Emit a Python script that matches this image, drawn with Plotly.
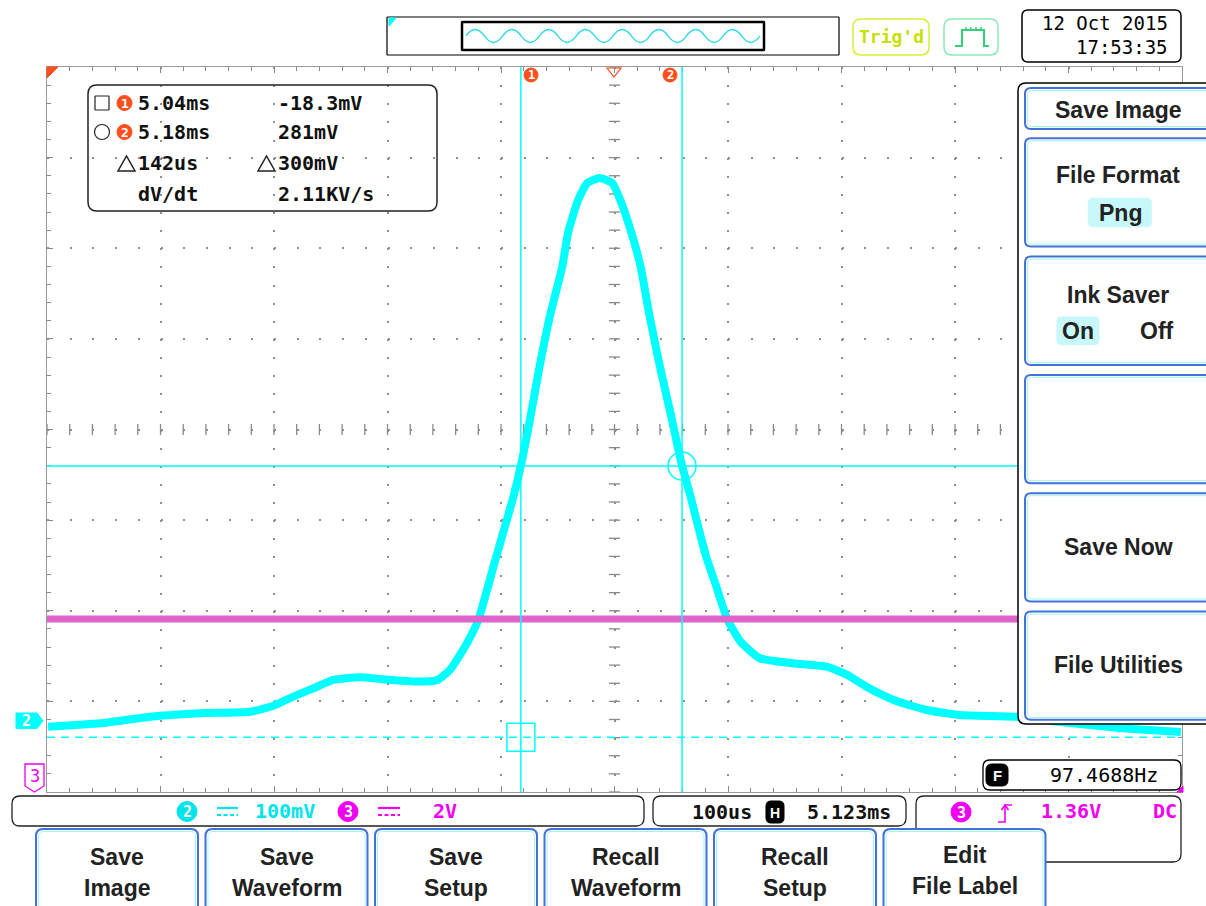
import numpy as np
import plotly.graph_objects as go

# ---------------- data ----------------
ch2_time_ms = [4.624, 4.670, 4.714, 4.758, 4.802, 4.822, 4.840, 4.861, 4.875, 4.899,
               4.919, 4.949, 4.967, 4.978, 4.993, 5.003, 5.018,
               5.034, 5.041, 5.049, 5.057, 5.066, 5.077, 5.082, 5.091, 5.099, 5.110,
               5.121, 5.128, 5.138, 5.146, 5.154, 5.163, 5.173, 5.182, 5.190,
               5.204, 5.212, 5.222, 5.234, 5.251, 5.280, 5.310, 5.328, 5.345, 5.369,
               5.398, 5.427, 5.477, 5.516, 5.568, 5.622]
ch2_mv = [-6.5, -2.8, 4.5, 8.3, 10.0, 16.3, 26.6, 37.6, 45.0, 48.0,
          45.8, 43.2, 45.0, 56.1, 85.5, 111.3, 177.5,
          247.4, 284.2, 335.7, 390.9, 446.1, 501.2, 538.1, 574.9, 593.3, 598.8,
          593.3, 574.9, 538.1, 501.2, 446.1, 390.9, 335.7, 284.2, 247.4,
          180.0, 151.0, 113.1, 87.3, 69.0, 63.5, 59.7, 50.6, 37.6, 23.0,
          11.9, 6.4, 4.5, -1.3, -7.9, -12.4]
ch3_time_ms = [4.623, 5.623]
ch3_volts = [5.0, 5.0]

cursor_time_ms = [5.0405, 5.1825]
cursor_mv = [-18.3, 281.0]

h_center_ms = 5.123      # horizontal position
time_per_div_ms = 0.1    # 100 us/div
ch2_mv_per_div = 100
ch2_top_mv = 721.4
ch3_v_per_div = 2
ch3_bottom_v = 1.182

readout_rows = [("5.04ms", "-18.3mV"), ("5.18ms", "281mV"), ("142us", "300mV"), ("dV/dt", "2.11KV/s")]
button_labels = [("Save", "Image"), ("Save", "Waveform"), ("Save", "Setup"),
                 ("Recall", "Waveform"), ("Recall", "Setup"), ("Edit", "File Label")]

# ---------------- geometry helpers ----------------
W_IMG, H_IMG = 1206, 906
L, T, PW, PH = 47, 67, 1135, 725
B = T + PH
MONO = "DejaVu Sans Mono"
SANS = "Liberation Sans"
CYAN = "#00FFFF"
CYAN_T = "#00E4EC"
MAG = "#E063CC"
MAG_T = "#F000F0"
ORANGE = "#FF4F1E"
BLUE = "#4470DA"
INK = "#222222"


def px(x):
    return (x - L) / PW


def py(y):
    return (B - y) / PH


def P(x, y):
    return f"{px(x):.5f},{py(y):.5f}"


def to_path(cmds):
    out = []
    for c in cmds:
        if c[0] == "Z":
            out.append("Z")
        else:
            out.append(c[0] + " ".join(P(*pt) for pt in c[1:]))
    return " ".join(out)


def rr_cmds(x0, y0, x1, y1, r):
    return [("M", (x0 + r, y0)), ("L", (x1 - r, y0)), ("Q", (x1, y0), (x1, y0 + r)),
            ("L", (x1, y1 - r)), ("Q", (x1, y1), (x1 - r, y1)), ("L", (x0 + r, y1)),
            ("Q", (x0, y1), (x0, y1 - r)), ("L", (x0, y0 + r)), ("Q", (x0, y0), (x0 + r, y0)), ("Z",)]


shapes = []
annos = []


def add_path(cmds, color="black", width=1.5, fill=None, dash=None):
    s = dict(type="path", xref="paper", yref="paper", path=to_path(cmds), layer="above",
             line=dict(color=color, width=width))
    if dash:
        s["line"]["dash"] = dash
    if fill:
        s["fillcolor"] = fill
    shapes.append(s)


def rrect(x0, y0, x1, y1, r, color="black", width=1.5, fill=None):
    add_path(rr_cmds(x0, y0, x1, y1, r), color, width, fill)


def line(x0, y0, x1, y1, color="black", width=1.5, dash=None):
    add_path([("M", (x0, y0)), ("L", (x1, y1))], color, width, None, dash)


def circle(cx, cy, r, color="black", width=1.2, fill=None):
    s = dict(type="circle", xref="paper", yref="paper", x0=px(cx - r), x1=px(cx + r),
             y0=py(cy + r), y1=py(cy - r), layer="above", line=dict(color=color, width=width))
    if fill:
        s["fillcolor"] = fill
    shapes.append(s)


def txt(x, y, s, size=20, color="black", family=MONO, xanchor="center"):
    annos.append(dict(x=px(x), y=py(y), xref="paper", yref="paper", text=s, showarrow=False,
                      font=dict(size=size, color=color, family=family), xanchor=xanchor,
                      yanchor="middle", borderpad=0))


# ---------------- figure ----------------
x0r = h_center_ms - 5 * time_per_div_ms
x1r = h_center_ms + 5 * time_per_div_ms
y0r = ch2_top_mv - 8 * ch2_mv_per_div

fig = go.Figure()

# center crosshair ticks of the graticule
xc_ticks = np.arange(x0r, x1r + 1e-9, time_per_div_ms / 5)
yc_ticks = np.arange(y0r, ch2_top_mv + 1e-9, ch2_mv_per_div / 5)
y_center = y0r + 4 * ch2_mv_per_div
fig.add_trace(go.Scatter(x=[h_center_ms] * len(yc_ticks), y=yc_ticks, mode="markers",
                         marker=dict(symbol="line-ew", size=8, line=dict(color="#8a8a8a", width=1.3)),
                         hoverinfo="skip", showlegend=False))
fig.add_trace(go.Scatter(x=xc_ticks, y=[y_center] * len(xc_ticks), mode="markers",
                         marker=dict(symbol="line-ns", size=8, line=dict(color="#8a8a8a", width=1.3)),
                         hoverinfo="skip", showlegend=False))

# channel 3 (magenta) on its own scale
fig.add_trace(go.Scatter(x=ch3_time_ms, y=ch3_volts, yaxis="y2", mode="lines",
                         line=dict(color=MAG, width=7), hoverinfo="skip", showlegend=False))
# channel 2 (cyan)
fig.add_trace(go.Scatter(x=ch2_time_ms, y=ch2_mv, mode="lines",
                         line=dict(color=CYAN, width=8, shape="spline", smoothing=0.5),
                         hoverinfo="skip", showlegend=False))

# cursor markers
fig.add_trace(go.Scatter(x=[cursor_time_ms[0]], y=[cursor_mv[0]], mode="markers",
                         marker=dict(symbol="square-open", size=28, color=CYAN, line=dict(width=1.5)),
                         hoverinfo="skip", showlegend=False))
fig.add_trace(go.Scatter(x=[cursor_time_ms[1]], y=[cursor_mv[1]], mode="markers",
                         marker=dict(symbol="circle-open", size=28, color=CYAN, line=dict(width=1.5)),
                         hoverinfo="skip", showlegend=False))

# cursor lines
for t in cursor_time_ms:
    shapes.append(dict(type="line", xref="x", yref="paper", x0=t, x1=t, y0=0, y1=1,
                       line=dict(color=CYAN, width=1.5), layer="above"))
shapes.append(dict(type="line", xref="paper", yref="y", x0=0, x1=1, y0=cursor_mv[1], y1=cursor_mv[1],
                   line=dict(color=CYAN, width=1.5), layer="above"))
shapes.append(dict(type="line", xref="paper", yref="y", x0=0, x1=1, y0=cursor_mv[0], y1=cursor_mv[0],
                   line=dict(color=CYAN, width=1.5, dash="8px,6px"), layer="above"))

# ---------------- top markers on the graticule ----------------
add_path([("M", (47, 67)), ("L", (58, 67)), ("L", (47, 78)), ("Z",)], ORANGE, 1, ORANGE)
add_path([("M", (607, 68)), ("L", (621, 68)), ("L", (614, 77)), ("Z",)], ORANGE, 1.2)
for cx, lab in [(531, "1"), (670, "2")]:
    circle(cx, 75, 7, ORANGE, 1, ORANGE)
    txt(cx, 75.5, f"<b>{lab}</b>", 12, "white")

# channel 2 ground marker
add_path([("M", (16, 713)), ("L", (37, 713)), ("L", (43, 720.8)), ("L", (37, 728.6)),
          ("L", (16, 728.6)), ("Z",)], CYAN, 1, CYAN)
txt(27, 721, "<b>2</b>", 15, "white")
# channel 3 marker
add_path([("M", (25, 764)), ("L", (44, 764)), ("L", (44, 786)), ("L", (34.5, 792)),
          ("L", (25, 786)), ("Z",)], MAG_T, 1.3, "white")
txt(34.5, 776, "3", 17, MAG_T)
# trigger level marker bottom right
add_path([("M", (1177, 792)), ("L", (1183, 786)), ("L", (1183, 792)), ("Z",)], MAG_T, 1, MAG_T)

# ---------------- cursor readout box ----------------
rrect(88, 85, 437, 211, 9, INK, 1.5)
row_y = [103, 132, 163, 194]
add_path(rr_cmds(95, 96, 109, 110, 0.5), INK, 1.2)
circle(102, 132, 7.5, INK, 1.2)
for i in range(2):
    circle(124.5, row_y[i], 7.5, ORANGE, 1, ORANGE)
    txt(124.5, row_y[i] + 0.5, f"<b>{i + 1}</b>", 13, "white")
for tx in (118, 258):
    add_path([("M", (tx, 171)), ("L", (tx + 17, 171)), ("L", (tx + 8.5, 156)), ("Z",)], INK, 1.5)
for (a, b), yy in zip(readout_rows, row_y):
    txt(137, yy, f"<b>{a}</b>", 20, "#111", MONO, "left")
    txt(277, yy, f"<b>{b}</b>", 20, "#111", MONO, "left")

# ---------------- top bar ----------------
rrect(387, 17, 839, 55, 0.5, "black", 1.2, "white")
add_path([("M", (389, 18)), ("L", (396, 18)), ("L", (389, 26)), ("Z",)], CYAN, 1, CYAN)
rrect(462, 22, 764, 50, 0.5, "black", 2.5)
# record overview wave icon
n_half = 16
x_s, x_e, yc, amp = 466, 760, 36, 6.5
hw = (x_e - x_s) / n_half
cmds = [("M", (x_s, yc))]
for k in range(n_half):
    xa = x_s + k * hw
    sgn = -1 if k % 2 == 0 else 1
    cmds.append(("Q", (xa + hw / 2, yc + sgn * 2 * amp), (xa + hw, yc)))
add_path(cmds, "#2BD9E6", 1.3)

rrect(853, 19, 929, 55, 8, "#D6EE3A", 1.5, "white")
txt(891, 37, "<b>Trig'd</b>", 18, "#C6E000")
rrect(944, 19, 998, 55, 8, "#8AEAB5", 1.5, "white")
add_path([("M", (955, 46)), ("L", (962, 46)), ("L", (962, 30)), ("L", (984, 30)),
          ("L", (984, 46)), ("L", (989, 46))], "#33D07A", 2)
for k in range(4):
    line(966 + k * 5, 27, 966 + k * 5, 29.5, "#33D07A", 1.5)
rrect(1022, 10, 1181, 62, 6, "black", 1.5, "white")
txt(1169, 23, "12 Oct 2015", 19, "black", MONO, "right")
txt(1169, 47, "17:53:35", 19, "black", MONO, "right")

# ---------------- right side menu ----------------
rrect(1018, 83, 1216, 724, 8, "black", 1.5, "white")
menu_boxes = [(88, 129)] + [(138.3 + k * 118.3, 246.6 + k * 118.3) for k in range(5)]
for (y0, y1) in menu_boxes:
    rrect(1025, y0, 1216, y1, 6, BLUE, 2, "white")
    rrect(1027.5, y0 + 2.5, 1216, y1 - 2.5, 4, "#9EF6F6", 1)
rrect(1088, 198, 1151.7, 227, 5, "#C8F8FA", 0.5, "#C8F8FA")
rrect(1056.7, 316.7, 1099.3, 345, 5, "#C8F8FA", 0.5, "#C8F8FA")
MS = 23
txt(1118, 110, "<b>Save Image</b>", MS, INK, SANS)
txt(1118, 175, "<b>File Format</b>", MS, INK, SANS)
txt(1120, 213, "<b>Png</b>", MS, INK, SANS)
txt(1118, 295, "<b>Ink Saver</b>", MS, INK, SANS)
txt(1078, 331, "<b>On</b>", MS, INK, SANS)
txt(1157, 331, "<b>Off</b>", MS, INK, SANS)
txt(1118, 547, "<b>Save Now</b>", MS, INK, SANS)
txt(1118, 665, "<b>File Utilities</b>", MS, INK, SANS)

# ---------------- frequency box ----------------
rrect(983, 760, 1181, 790, 7, "black", 1.3, "white")
rrect(986, 764, 1008, 786, 6, "black", 1, "black")
txt(997, 775.5, "<b>F</b>", 15, "white", SANS)
txt(1104, 775, "97.4688Hz", 20, "black", MONO)

# ---------------- status bar ----------------
rrect(916, 796, 1181, 862, 8, INK, 1.3, "white")
rrect(12, 796, 644, 826, 8, INK, 1.3, "white")
rrect(653, 796, 906, 826, 8, INK, 1.3, "white")
circle(187, 811.5, 10, CYAN_T, 1, CYAN_T)
txt(187, 812, "<b>2</b>", 15, "white")
line(217, 808, 238, 808, CYAN_T, 2.2)
line(217, 815, 238, 815, CYAN_T, 2.2, "4px,2.5px")
txt(254, 811, "<b>100mV</b>", 20, CYAN_T, MONO, "left")
circle(348, 811.5, 10, MAG_T, 1, MAG_T)
txt(348, 812, "<b>3</b>", 15, "white")
line(378, 808, 400, 808, MAG_T, 2.2)
line(378, 815, 400, 815, MAG_T, 2.2, "4px,2.5px")
txt(432, 811, "<b>2V</b>", 20, MAG_T, MONO, "left")

txt(691, 812, "<b>100us</b>", 20, "#111", MONO, "left")
rrect(766, 801, 784, 823, 5, "black", 1, "black")
txt(775, 812.5, "<b>H</b>", 14, "white", SANS)
txt(806, 812, "<b>5.123ms</b>", 20, "#111", MONO, "left")

circle(961, 812, 10, MAG_T, 1, MAG_T)
txt(961, 812.5, "<b>3</b>", 15, "white")
add_path([("M", (998, 822)), ("L", (1005, 822)), ("L", (1005, 805)), ("L", (1012, 805))], MAG_T, 1.6)
add_path([("M", (1001.5, 810)), ("L", (1005, 805)), ("L", (1008.5, 810))], MAG_T, 1.6)
txt(1040, 811, "<b>1.36V</b>", 20, MAG_T, MONO, "left")
txt(1178, 811, "<b>DC</b>", 20, MAG_T, MONO, "right")

# ---------------- bottom buttons ----------------
for k, (l1, l2) in enumerate(button_labels):
    bx0 = 36 + k * 169.5
    rrect(bx0, 829, bx0 + 162, 930, 7, BLUE, 2, "white")
    rrect(bx0 + 2.5, 831.5, bx0 + 159.5, 930, 5, "#9EF6F6", 1)
    cx = bx0 + 81
    dy = -2 if k == 5 else 0
    txt(cx, 857 + dy, f"<b>{l1}</b>", 23, INK, SANS)
    txt(cx, 888 + dy, f"<b>{l2}</b>", 23, INK, SANS)

# ---------------- layout ----------------
fig.update_layout(
    width=W_IMG, height=H_IMG, autosize=False,
    margin=dict(l=L, r=W_IMG - L - PW, t=T, b=H_IMG - T - PH, pad=0),
    paper_bgcolor="white", plot_bgcolor="white",
    showlegend=False,
    xaxis=dict(range=[x0r, x1r], tick0=x0r, dtick=time_per_div_ms, showticklabels=False,
               ticks="inside", ticklen=6, tickwidth=1, tickcolor="#8a8a8a",
               showline=True, linecolor="#9a9a9a", linewidth=1, mirror="ticks",
               showgrid=True, gridcolor="#8f8f8f", gridwidth=2, griddash="2px,16.125px",
               zeroline=False, fixedrange=True,
               minor=dict(dtick=time_per_div_ms / 5, tick0=x0r, ticks="inside", ticklen=4,
                          tickcolor="#8a8a8a", showgrid=False)),
    yaxis=dict(range=[y0r, ch2_top_mv], tick0=y0r, dtick=ch2_mv_per_div, showticklabels=False,
               ticks="inside", ticklen=6, tickwidth=1, tickcolor="#8a8a8a",
               showline=True, linecolor="#9a9a9a", linewidth=1, mirror="ticks",
               showgrid=True, gridcolor="#8f8f8f", gridwidth=2, griddash="2px,20.7px",
               zeroline=False, fixedrange=True,
               minor=dict(dtick=ch2_mv_per_div / 5, tick0=y0r, ticks="inside", ticklen=4,
                          tickcolor="#8a8a8a", showgrid=False)),
    yaxis2=dict(range=[ch3_bottom_v, ch3_bottom_v + 8 * ch3_v_per_div], overlaying="y",
                visible=False, fixedrange=True),
    shapes=shapes,
    annotations=annos,
)

fig.write_html("out.html", config={"displayModeBar": False})
